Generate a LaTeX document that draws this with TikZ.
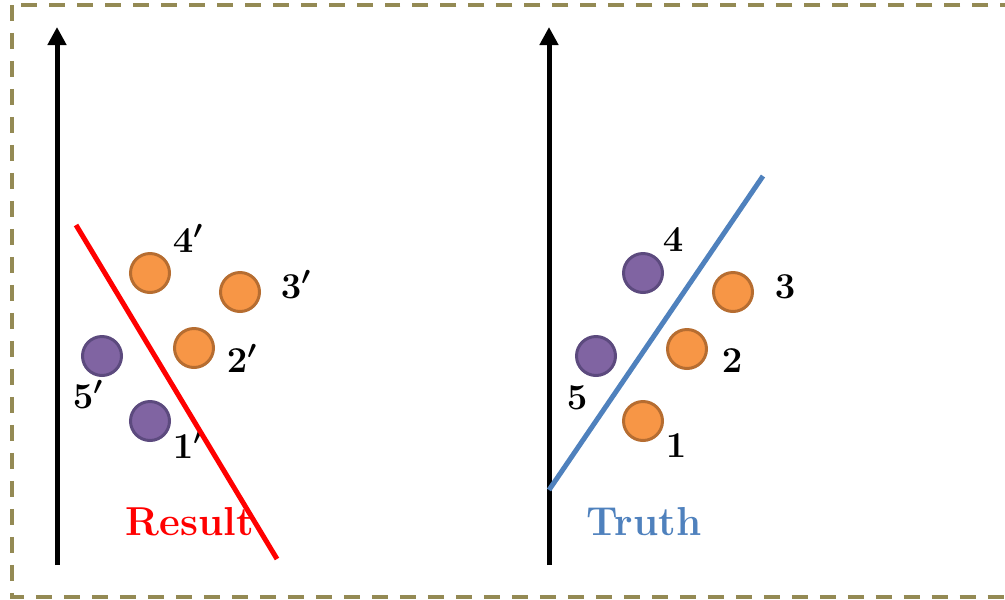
\documentclass[tikz,border=0pt]{standalone}
\usetikzlibrary{arrows.meta}

\definecolor{frameolive}{HTML}{948A54}
\definecolor{posfill}{HTML}{F79646}
\definecolor{posline}{HTML}{B66D31}
\definecolor{negfill}{HTML}{8064A2}
\definecolor{negline}{HTML}{5C4A7E}
\definecolor{truthblue}{HTML}{4F81BD}

\tikzset{
	axis/.style = {line width=0.1cm, -{Triangle[length=0.36cm, width=0.36cm]}},
	dot/.style = {circle, minimum size=0.78cm, inner sep=0pt, line width=0.06cm},
	posdot/.style = {dot, fill=posfill, draw=posline},
	negdot/.style = {dot, fill=negfill, draw=negline},
	num/.style = {anchor=base, inner sep=0pt, font=\fontsize{20}{24}\selectfont\bfseries\boldmath},
	title/.style = {anchor=base, inner sep=0pt, font=\fontsize{23}{28}\selectfont\bfseries}
}

\begin{document}
\begin{tikzpicture}[x=0.02cm, y=-0.02cm]
\useasboundingbox (0,0) rectangle (1005,599);
\draw[frameolive, line width=0.08cm, dash pattern=on 0.32cm off 0.24cm] (12,5) rectangle (1014,597);

% result
\draw[axis] (57,565) -- (57,27);
\foreach \n/\x/\y/\k in {1/150/421/negdot, 2/194/348/posdot, 3/240/292/posdot, 4/150/273/posdot, 5/102/356/negdot}
{
	\node[\k] (r\n) at (\x,\y) {};
}
\foreach \n/\x/\y in {1/188/458, 2/242/372, 3/296/298, 4/188/252, 5/88/408}
{
	\node[num] (r\n lbl) at (\x,\y) {$\n'$};
}
\draw[red, line width=0.1cm] (76,225) -- (277,559);
\node[title, text=red] (result) at (190,535) {Result};

% truth
\draw[axis] (549,565) -- (549,27);
\foreach \n/\x/\y/\k in {1/643/421/posdot, 2/687/349/posdot, 3/733/292/posdot, 4/643/273/negdot, 5/596/356/negdot}
{
	\node[\k] (t\n) at (\x,\y) {};
}
\foreach \n/\x/\y in {1/676/457, 2/732/372, 3/785/298, 4/673/251, 5/577/409}
{
	\node[num] (t\n lbl) at (\x,\y) {$\n$};
}
\draw[truthblue, line width=0.1cm] (549,490) -- (763,176);
\node[title, text=truthblue] (truth) at (644,535) {Truth};
\end{tikzpicture}
\end{document}
